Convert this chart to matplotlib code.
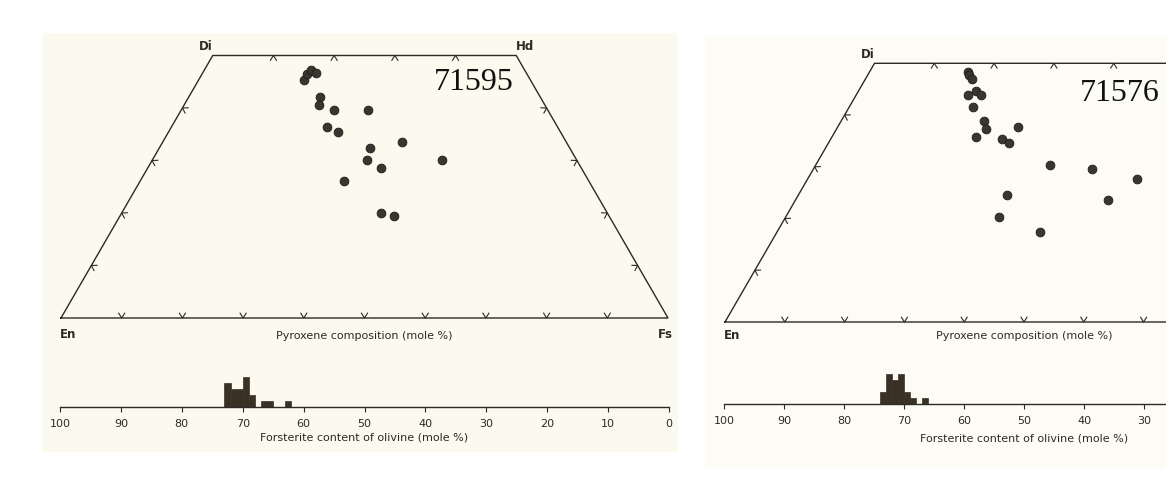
import numpy as np
import matplotlib.pyplot as plt

# pyroxene compositions (mole %), Wo and Fs; En = 100 - Wo - Fs
left_wo = [45.4, 46.4, 47.3, 46.7, 42.0, 40.5, 39.6, 39.6, 36.4, 35.4, 33.5, 32.3, 30.1, 30.1, 28.6, 26.1, 20.0, 19.4]
left_fs = [17.4, 17.4, 17.6, 18.6, 21.6, 22.3, 25.2, 30.7, 25.7, 28.0, 39.4, 34.8, 35.4, 47.7, 38.4, 33.6, 42.7, 45.2]

right_wo = [48.4, 47.7, 47.0, 44.7, 43.9, 43.8, 41.5, 38.9, 37.3, 35.7, 37.6, 35.3, 34.5, 30.3, 29.6, 27.7, 24.5, 23.6, 20.3, 17.3]
right_fs = [16.5, 17.0, 17.8, 19.7, 20.9, 18.7, 20.7, 23.9, 25.0, 24.1, 30.2, 28.6, 30.2, 39.2, 46.6, 55.0, 34.9, 52.2, 35.7, 44.0]

# olivine Fo histograms: lower bin edge and count (1 mole % bins)
left_fo_bins = [62, 65, 66, 68, 69, 70, 71, 72]
left_counts = [1, 1, 1, 2, 5, 3, 3, 4]
right_fo_bins = [66, 68, 69, 70, 71, 72, 73]
right_counts = [1, 1, 2, 5, 4, 5, 2]

sample_names = ["71595", "71576"]
fo_ticks = list(range(0, 101, 10))

W, H = 1166, 483
INK = "#2c2a26"
DOT = "#3a362f"
fig = plt.figure(figsize=(W / 100, H / 100), dpi=100)
fig.patch.set_facecolor("white")

R3 = np.sqrt(3) / 2


def px_axes(x0, y0, x1, y1, **kw):
    # pixel box, origin top-left
    return fig.add_axes([x0 / W, 1 - y1 / H, (x1 - x0) / W, (y1 - y0) / H], **kw)


def cart(wo, fs):
    wo = np.asarray(wo, float)
    fs = np.asarray(fs, float)
    return fs + wo / 2, wo * R3


def chevron(ax, p, t, n, a=0.8, b=0.5):
    p, t, n = np.array(p), np.array(t), np.array(n)
    pts = np.array([p + a * n + b * t, p, p + a * n - b * t])
    ax.plot(pts[:, 0], pts[:, 1], color=INK, lw=0.8, clip_on=False)


def draw_panel(bg_box, quad_box, hist_box, wo, fs, bins, counts, name, name_xy,
               en_dy, lab_y, fo_lab_pad, bg, cut_at=None):
    bgax = px_axes(*bg_box, zorder=0)
    bgax.set_facecolor(bg)
    bgax.set_xticks([])
    bgax.set_yticks([])
    for s in bgax.spines.values():
        s.set_visible(False)

    ax = px_axes(*quad_box, zorder=2)
    ax.patch.set_alpha(0)
    ax.set_xlim(0, 100)
    ax.set_ylim(0, 50 * R3)
    ax.axis("off")

    corners = np.array([cart(0, 0), cart(0, 100), cart(50, 50), cart(50, 0), cart(0, 0)])
    ax.plot(corners[:, 0], corners[:, 1], color=INK, lw=1.0, clip_on=False,
            solid_joinstyle="miter")

    for f in range(10, 100, 10):
        chevron(ax, cart(0, f), (1, 0), (0, 1))
    for f in range(10, 50, 10):
        chevron(ax, cart(50, f), (1, 0), (0, -1))
    for w in range(10, 50, 10):
        chevron(ax, cart(w, 0), (0.5, R3), (R3, -0.5))
        chevron(ax, cart(w, 100 - w), (-0.5, R3), (-R3, -0.5))

    x, y = cart(wo, fs)
    ax.scatter(x, y, s=40, color=DOT, edgecolor="#1e1c19", linewidths=0.6,
               zorder=3, clip_on=False)

    lab = dict(fontsize=8.5, fontweight="bold", color=INK, ha="center", va="center",
               textcoords="offset points", annotation_clip=False)
    ax.annotate("Di", cart(50, 0), xytext=(-5, 6.5), **lab)
    ax.annotate("En", cart(0, 0), xytext=(5, en_dy), **lab)
    if cut_at is None:
        ax.annotate("Hd", cart(50, 50), xytext=(6.5, 6.5), **lab)
        ax.annotate("Fs", cart(0, 100), xytext=(-2, en_dy), **lab)

    ax.text(50, lab_y, "Pyroxene composition (mole %)", fontsize=8, color=INK,
            ha="center", va="center", clip_on=False)
    ax.text(name_xy[0], name_xy[1], name, fontsize=23, family="Liberation Serif",
            color="#111111", ha="left", va="center", clip_on=False)

    hx = px_axes(*hist_box, zorder=2)
    hx.patch.set_alpha(0)
    hx.bar(bins, counts, width=1, align="edge", color="#3a3126", edgecolor="#3a3126",
           linewidth=0.5)
    hx.set_xlim(100, 0)
    hx.set_ylim(0, 6)
    for side in ("top", "left", "right"):
        hx.spines[side].set_visible(False)
    hx.spines["bottom"].set_color(INK)
    hx.spines["bottom"].set_linewidth(1.0)
    hx.set_yticks([])
    hx.set_xticks(fo_ticks)
    # labels that would fall past the cropped edge of the scan are left blank
    hx.set_xticklabels([str(v) if cut_at is None or v >= cut_at else "" for v in fo_ticks])
    hx.tick_params(axis="x", direction="out", length=3.5, width=0.8, color=INK,
                   labelsize=8, labelcolor=INK, pad=5)
    hx.set_xlabel("Forsterite content of olivine (mole %)", fontsize=8, color=INK,
                  labelpad=fo_lab_pad)


# left panel: 71595
draw_panel(bg_box=(42, 33, 678, 452), quad_box=(61, 55.5, 668, 318),
           hist_box=(60, 370.7, 669, 406.7), wo=left_wo, fs=left_fs,
           bins=left_fo_bins, counts=left_counts, name=sample_names[0],
           name_xy=(61.5, 38.9), en_dy=-12, lab_y=-3.0, fo_lab_pad=3,
           bg="#fcfaee")

# right panel: 71576 (cut by the figure edge)
draw_panel(bg_box=(705, 37, 1190, 468), quad_box=(725, 63.3, 1323, 322),
           hist_box=(724, 368.3, 1324, 404.3), wo=right_wo, fs=right_fs,
           bins=right_fo_bins, counts=right_counts, name=sample_names[1],
           name_xy=(59.3, 38.3), en_dy=-10, lab_y=-2.3, fo_lab_pad=5,
           bg="#fdfcf4", cut_at=30)

fig.savefig("out.png", dpi=100)
